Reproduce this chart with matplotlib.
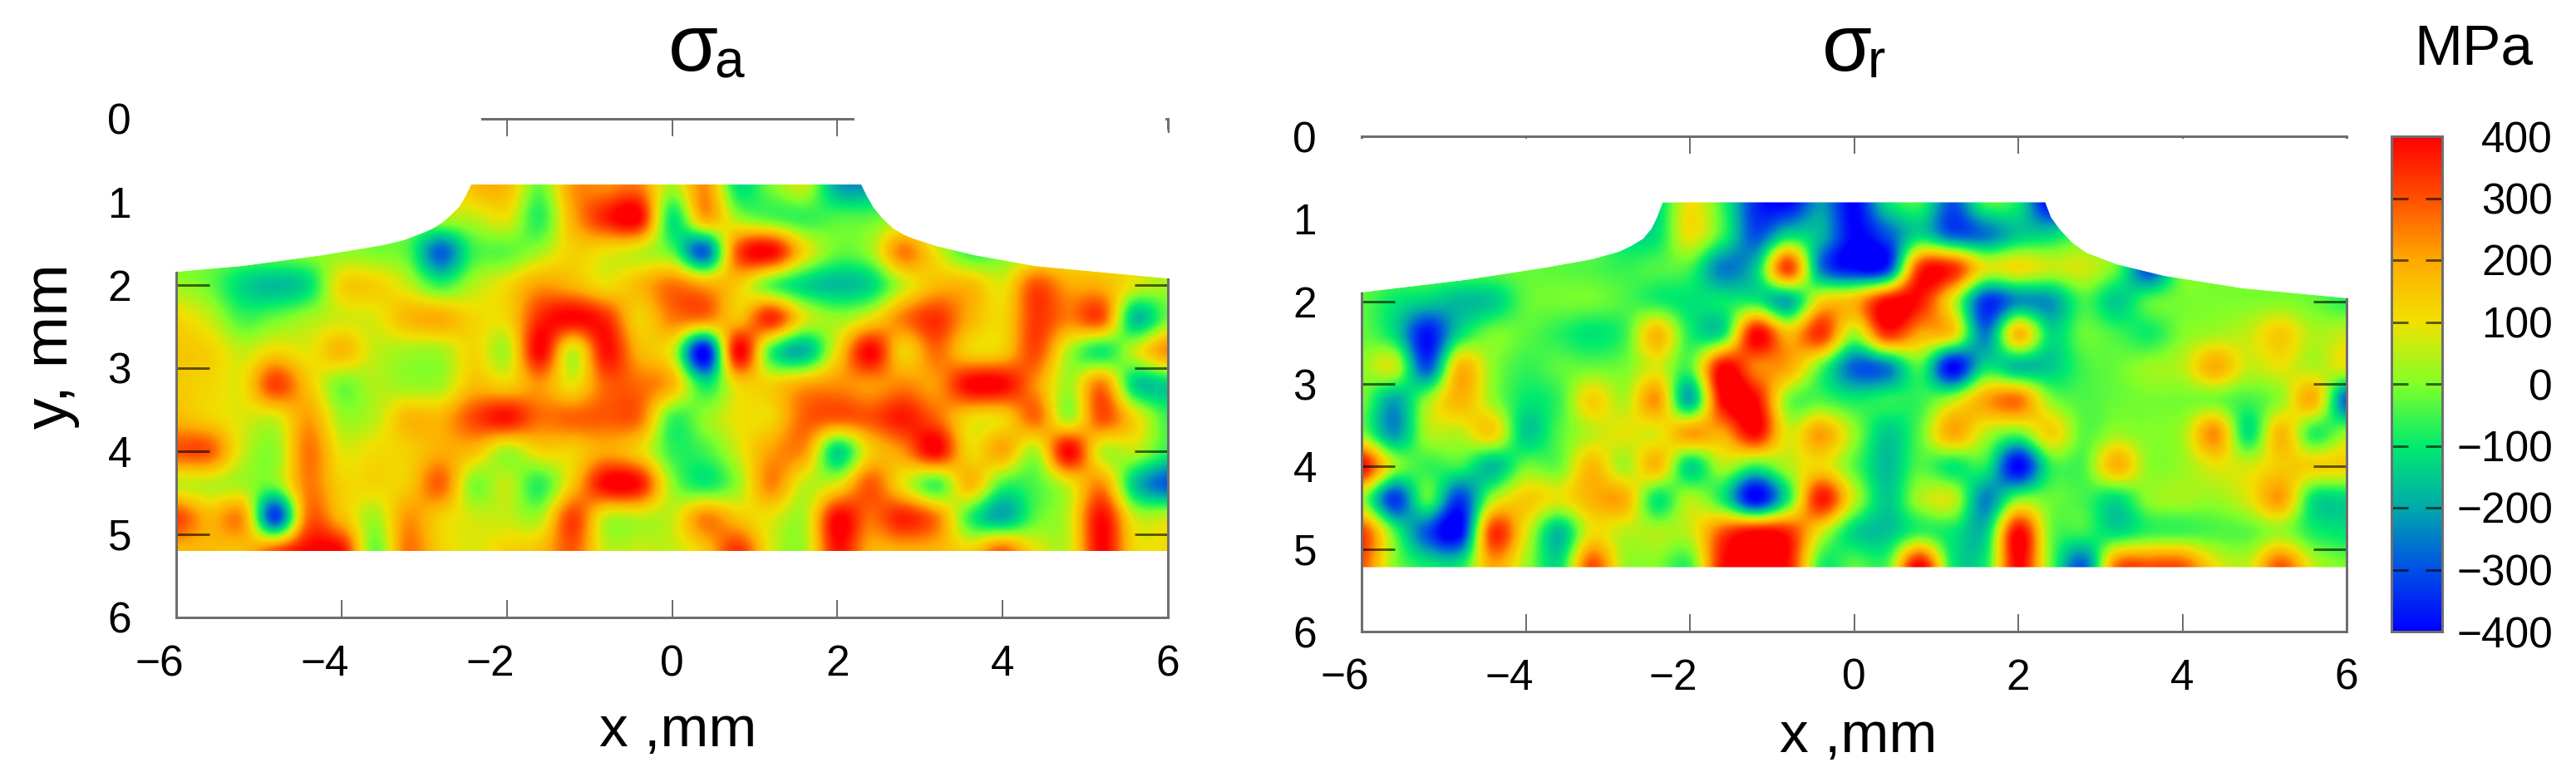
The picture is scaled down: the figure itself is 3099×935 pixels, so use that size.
import numpy as np
import matplotlib
matplotlib.use('Agg')
import matplotlib.pyplot as plt
from matplotlib.colors import LinearSegmentedColormap
from matplotlib.patches import Polygon
from matplotlib.transforms import ScaledTranslation

plt.rcParams['font.family'] = ['Liberation Sans', 'DejaVu Sans']

W, H = 3099, 935

# measurement grid, mm
grid_x = [-6, -5.6, -5.2, -4.8, -4.4, -4, -3.6, -3.2, -2.8, -2.4, -2, -1.6, -1.2, -0.8, -0.4, 0,
          0.4, 0.8, 1.2, 1.6, 2, 2.4, 2.8, 3.2, 3.6, 4, 4.4, 4.8, 5.2, 5.6, 6]
grid_y = [0.8, 1.2, 1.6, 2.0, 2.4, 2.8, 3.2, 3.6, 4.0, 4.4, 4.8, 5.2]

# stress, MPa
sigma_a = [
    [0, 0, 0, 0, 0, 0, 0, 10, 40, 170, 170, -20, 220, 230, 250, 40, 230, -110, -10, 60, -200, -210, -60, 0, 0, 0, 0, 0, 0, 0, 0],
    [-10, -10, -10, -10, -10, -10, -10, -10, 30, 50, 90, -70, 190, 360, 400, -100, 190, 30, -30, -60, -40, -30, 20, -30, -60, -40, -20, 0, 0, 0, 0],
    [-10, -10, -10, 0, 10, 10, -5, -40, -280, -60, -30, 30, 130, 100, 60, -30, -280, 300, 400, 120, -20, 20, 250, 90, -60, -20, 30, 60, 80, 60, 40],
    [20, -20, -130, -170, -120, 120, 130, 60, -60, 40, 110, 210, 180, 110, 170, 260, 200, 140, -30, -130, -170, -130, 60, 170, 170, 90, 300, 200, 180, 80, 30],
    [120, 60, -50, -20, 30, 70, 80, 170, 190, 120, 120, 350, 400, 350, 130, 250, 250, 160, 350, 90, 20, 100, 250, 340, 190, 120, 330, 250, 300, -160, -20],
    [150, 130, 60, 120, 90, 170, 60, 30, 30, 120, 40, 400, 60, 380, 180, 70, -400, 400, -60, -180, 110, 400, 130, 270, 130, 140, 310, 40, -90, 60, 230],
    [140, 120, 100, 320, 150, -10, 40, 20, 30, 160, 130, 220, 100, 280, 270, 180, -100, 120, 130, 200, 230, 220, 240, 220, 400, 400, 230, 30, 250, -130, -140],
    [170, 130, 80, 70, 210, 30, 50, 170, 180, 310, 380, 270, 280, 290, 270, -50, 10, 100, 120, 280, 290, 300, 370, 280, 120, 120, 270, 30, 300, 120, -60],
    [300, 290, 70, 10, 260, 90, 110, 130, 190, 160, 30, 120, 130, 200, 130, -60, -50, 70, 210, 220, -130, 130, 230, 400, 120, 200, 40, 400, 60, 50, -70],
    [60, 50, 30, -10, 250, 130, 120, 140, 280, 0, 60, -70, 150, 400, 380, 20, -90, 20, 240, 60, 90, 290, 100, -50, 170, -50, -40, 80, 230, -150, -290],
    [320, 180, 220, -320, 270, 170, 30, 220, 130, 70, 60, 40, 320, 60, 50, 60, 240, 150, 90, 40, 400, 270, 360, 250, -60, -190, -30, 60, 390, 70, 60],
    [170, 170, 160, 300, 400, 390, -20, 260, 130, 80, 130, 160, 290, 60, 60, 60, 150, 340, 80, 30, 380, 190, 190, 180, 130, 280, 100, 60, 400, 120, 110],
]
sigma_r = [
    [0, 0, 0, 0, 0, 0, 0, 0, -150, -130, 100, -60, -350, -400, -220, -400, -120, -60, -300, -50, -100, -400, -100, 0, 0, 0, 0, 0, 0, 0, 0],
    [-10, -10, -10, -10, -10, -10, -10, -10, -120, -110, 100, -60, -300, -130, -180, -400, -300, -130, -280, -260, -150, -130, -30, -30, -30, -10, 0, 0, 0, 0, 0],
    [-10, -10, -10, -10, -10, -20, -30, -40, -60, -40, -50, -250, -150, 320, -250, -400, -350, 330, 350, 90, 110, 60, 70, -30, -300, -10, -5, 0, 0, -10, -10],
    [-30, -100, -140, -170, -150, -30, -10, -10, -40, -80, -110, -100, -90, -190, 120, 170, 390, 380, 80, -330, -230, -220, -50, -150, -40, -10, -5, -5, 0, -20, -70],
    [-20, -120, -380, -120, -10, -30, -70, -110, -60, 170, -80, -100, 400, 170, 340, 30, 340, 200, 130, -250, 170, -120, -20, -50, -90, 0, 30, 60, 140, 40, 60],
    [10, 60, -300, 170, 10, -60, -30, -20, -10, 80, -40, 400, 250, 200, -30, -280, -250, -50, -400, -120, -170, -150, -50, -20, 20, 50, 190, 60, 90, 40, 90],
    [-10, -200, 10, 180, 20, -100, -60, 130, 40, 220, -190, 400, 400, 0, -40, -90, -70, -60, 40, 200, 260, 10, -40, -20, -10, -10, -10, -50, 20, 180, -280],
    [0, -220, 30, 50, 130, -150, -40, 50, 90, 80, 210, 200, 400, 80, 210, 20, -150, -30, 200, 50, -20, 130, -30, 20, 0, 30, 230, -110, 170, -70, 10],
    [400, 30, -60, -60, -170, -20, -20, 170, 30, 170, -130, 40, -60, 40, 120, -30, -170, -40, -100, -80, -400, -70, -40, 180, 10, 20, 90, 70, 140, 130, 130],
    [20, -330, -40, -330, 30, 140, 90, 180, 190, -100, 40, -90, -400, -80, 370, 60, -150, 30, 60, -240, -10, -20, -50, -120, 10, 30, 20, 80, 210, -110, -130],
    [330, -40, -300, -400, 330, 90, -170, 100, 50, 40, 60, 300, 400, 350, 80, -130, -160, -60, -100, -150, 400, -10, -60, -120, -60, -50, -40, -30, 20, -80, -110],
    [300, 10, -100, -100, 200, 30, -120, 300, 30, 0, -50, 380, 400, 380, -70, -30, -40, 400, -90, -90, 400, -20, -280, 260, 300, 290, 100, 60, 290, 60, -10],
]

# weld profile (upper edge of the section), bottom at y_bottom
profile_a_x = [-6, -5.2, -4.23, -3.5, -3.25, -3.01, -2.88, -2.77, -2.67, -2.57, -2.5, -2.43,
               2.29, 2.36, 2.44, 2.55, 2.68, 2.8, 2.92, 3.2, 3.66, 4.39, 6]
profile_a_y = [1.84, 1.77, 1.64, 1.52, 1.46, 1.37, 1.31, 1.24, 1.15, 1.05, 0.93, 0.79,
               0.79, 0.93, 1.07, 1.2, 1.32, 1.39, 1.44, 1.53, 1.64, 1.77, 1.92]
bottom_a = 5.2
profile_r_x = [-6, -4.74, -3.76, -3.2, -2.87, -2.72, -2.57, -2.47, -2.41, -2.33,
               2.33, 2.4, 2.51, 2.66, 2.83, 3.2, 3.78, 4.73, 6]
profile_r_y = [1.89, 1.74, 1.59, 1.49, 1.40, 1.33, 1.24, 1.12, 1.00, 0.80,
               0.80, 0.98, 1.13, 1.29, 1.41, 1.55, 1.69, 1.84, 1.96]
bottom_r = 5.22

x_ticks = [-6, -4, -2, 0, 2, 4, 6]
y_ticks = [0, 1, 2, 3, 4, 5, 6]
cbar_ticks = [-400, -300, -200, -100, 0, 100, 200, 300, 400]

cbar_colors = ['#0000ff', '#0050e6', '#00aaaa', '#00eb6e', '#82ff28', '#f0e100', '#ffaa00', '#ff5000', '#ff0000']
stress_cmap = LinearSegmentedColormap.from_list('stress', cbar_colors)

GRAY = '#6e6e6e'
DARK = (0, 0, 0, 0.6)
PX = 0.72  # points per pixel at dpi 100


def add_axes_px(fig, x0, y0, x1, y1):
    return fig.add_axes((x0 / W, 1 - y1 / H, (x1 - x0) / W, (y1 - y0) / H))


def label_px(fig, x, y, s, **kw):
    fig.text(x / W, 1 - y / H, s, **kw)


def draw_map(ax, values, prof_x, prof_y, bottom):
    dx = 0.2
    extent = (grid_x[0] - dx, grid_x[-1] + dx, grid_y[-1] + dx, grid_y[0] - dx)
    # catrom goes through the grid values, agg's bicubic would blur the peaks away
    im = ax.imshow(np.array(values, dtype=float), cmap=stress_cmap, vmin=-400, vmax=400,
                   extent=extent, aspect='auto', interpolation='catrom', origin='upper')
    outline = list(zip(prof_x, prof_y)) + [(6, bottom), (-6, bottom)]
    clip = Polygon(outline, closed=True, transform=ax.transData)
    im.set_clip_path(clip)
    ax.set_xlim(-6, 6)
    ax.set_ylim(6, 0)
    for s in ax.spines.values():
        s.set_color(GRAY)
        s.set_linewidth(3 * PX)
    ax.set_xticks(x_ticks)
    ax.set_yticks(y_ticks)
    ax.set_xticklabels([str(t).replace('-', '\u2212') for t in x_ticks])
    ax.tick_params(axis='x', which='major', direction='in', top=True, bottom=True, length=21 * PX,
                   width=2 * PX, color=GRAY, labelsize=37, pad=32 * PX)
    ax.tick_params(axis='y', which='major', direction='in', left=True, right=True, length=40 * PX,
                   width=3 * PX, color=DARK, labelsize=37, pad=54 * PX)
    # the minus sign hangs to the left of the digit
    shift = ScaledTranslation(-20 / 100, 0, ax.figure.dpi_scale_trans)
    for t, lab in zip(x_ticks, ax.get_xticklabels()):
        if t < 0:
            lab.set_transform(lab.get_transform() + shift)


def add_mask(ax, left_pts, right_pts):
    ax.add_patch(Polygon(left_pts, closed=True, fc='white', ec='none', zorder=3, clip_on=False))
    ax.add_patch(Polygon(right_pts, closed=True, fc='white', ec='none', zorder=3, clip_on=False))


fig = plt.figure(figsize=(W / 100, H / 100), dpi=100)

ax_a = add_axes_px(fig, 212, 143, 1405, 743)
draw_map(ax_a, sigma_a, profile_a_x, profile_a_y, bottom_a)
n_a = profile_a_x.index(-2.43)
add_mask(ax_a,
         [(-6.05, -0.05), (-2.31, -0.05), (-2.31, 0.79)] + list(zip(profile_a_x[n_a::-1], profile_a_y[n_a::-1])) + [(-6.05, profile_a_y[0])],
         [(2.2, -0.05), (5.96, -0.05), (6.0, 0.17), (6.05, 0.17), (6.05, profile_a_y[-1])] + list(zip(profile_a_x[:n_a:-1], profile_a_y[:n_a:-1])))

ax_r = add_axes_px(fig, 1638, 164, 2823, 760)
draw_map(ax_r, sigma_r, profile_r_x, profile_r_y, bottom_r)
n_r = profile_r_x.index(-2.33)
add_mask(ax_r,
         [(-6.05, 0.03), (-2.2, 0.03), (-2.2, 0.80)] + list(zip(profile_r_x[n_r::-1], profile_r_y[n_r::-1])) + [(-6.05, profile_r_y[0])],
         [(2.4, 0.03), (6.05, 0.03), (6.05, profile_r_y[-1])] + list(zip(profile_r_x[:n_r:-1], profile_r_y[:n_r:-1])))

# colour bar
cax = add_axes_px(fig, 2877, 164, 2938, 760)
mappable = plt.cm.ScalarMappable(cmap=stress_cmap, norm=plt.Normalize(-400, 400))
cb = fig.colorbar(mappable, cax=cax)
cb.set_ticks(cbar_ticks)
cb.set_ticklabels([str(t).replace('-', '\u2212') for t in cbar_ticks])
cb.outline.set_edgecolor(GRAY)
cb.outline.set_linewidth(3 * PX)
cax.tick_params(axis='y', direction='in', left=True, right=True, length=20 * PX, width=3 * PX,
                color=DARK, labelsize=37, pad=133 * PX)
for lab in cax.get_yticklabels():
    lab.set_horizontalalignment('right')

# titles and axis labels
label_px(fig, 804, 85, '\u03c3', fontsize=70, va='baseline', ha='left')
label_px(fig, 859, 93, 'a', fontsize=46, va='baseline', ha='left')
label_px(fig, 2192, 85, '\u03c3', fontsize=70, va='baseline', ha='left')
label_px(fig, 2247, 93, 'r', fontsize=46, va='baseline', ha='left')
label_px(fig, 2976, 77, 'MPa', fontsize=50, va='baseline', ha='center')
label_px(fig, 816, 898, 'x ,mm', fontsize=50, va='baseline', ha='center')
label_px(fig, 2236, 905, 'x ,mm', fontsize=50, va='baseline', ha='center')
label_px(fig, 62, 417, 'y, mm', fontsize=54, rotation=90, va='center', ha='center', rotation_mode='anchor')

fig.savefig('out.png', dpi=100, facecolor='white')
